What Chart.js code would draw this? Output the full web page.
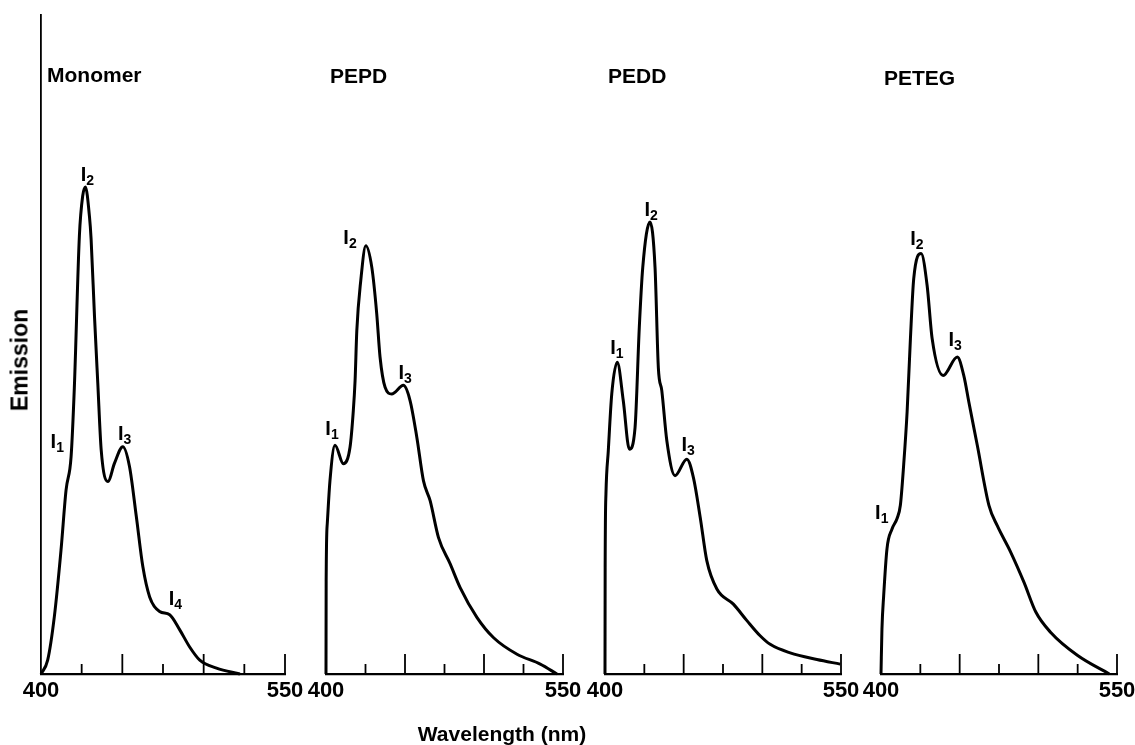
<!DOCTYPE html>
<html><head><meta charset="utf-8">
<script src="https://cdn.jsdelivr.net/npm/chart.js@4.4.1/dist/chart.umd.min.js"></script>
<style>
html,body{margin:0;padding:0;background:#fff;}
body{width:1135px;height:745px;position:relative;overflow:hidden;font-family:"Liberation Sans",Arial,Helvetica,sans-serif;}
canvas{position:absolute;}
.t{position:absolute;font-weight:bold;color:#000;white-space:nowrap;line-height:1;}
.lbl{position:absolute;font-weight:bold;font-size:20px;color:#000;transform:translate(-50%,-50%);white-space:nowrap;line-height:1;}
.lbl sub{font-size:14px;vertical-align:-4px;line-height:0;}
</style></head><body>
<script>
// ---- data (wavelength nm, emission a.u.) ----
const tickValues = [400, 425, 450, 475, 500, 525, 550];
const tickLabels = ['400', '550'];
const panelNames = ['Monomer', 'PEPD', 'PEDD', 'PETEG'];

const monomerX = [400, 404.1, 408.2, 412.3, 415.4, 418.5, 420.5, 423.6, 425.6, 427.3, 429.8, 430.8, 432.9, 434.9, 437.0, 441.1, 445.2, 450.3, 454.4, 458.6, 462.6, 466.8, 472.9, 479.1, 485.3, 491.4, 497.6, 507.9, 522.3];
const monomerY = [0, 2.1, 8.7, 18.8, 27.9, 33.0, 43.5, 66.5, 72.5, 73.9, 69.4, 66.0, 54.2, 44.2, 34.0, 29.2, 32.0, 34.5, 31.5, 23.9, 16.3, 11.7, 9.5, 9.0, 6.7, 4.1, 2.1, 0.9, 0];

const pepdX = [400, 400.1, 400.8, 402.5, 405.7, 411.0, 415.2, 417.3, 418.4, 419.5, 422.0, 425.2, 429.0, 432.1, 434.2, 437.4, 441.6, 449.0, 453.2, 457.5, 461.7, 465.9, 471.2, 478.6, 484.9, 495.5, 506.1, 520.9, 535.6, 546.2];
const pepdY = [0, 14.1, 22.8, 29.3, 34.7, 31.9, 34.4, 40.0, 44.5, 52.1, 59.7, 65.0, 61.7, 54.7, 48.1, 43.5, 42.5, 43.8, 41.5, 35.9, 29.3, 26.3, 20.7, 16.7, 13.1, 8.6, 5.5, 3.0, 1.5, 0];

const peddX = [400, 400.1, 400.6, 402.1, 404.3, 407.8, 411.6, 415.5, 419.1, 421.8, 424.0, 428.6, 431.8, 433.9, 436.1, 439.3, 444.5, 452.0, 456.2, 460.5, 464.7, 471.1, 481.6, 490.2, 498.6, 505.0, 517.7, 534.7, 549.5];
const peddY = [0, 16.2, 27.3, 33.9, 42.5, 47.3, 41.5, 34.1, 37.4, 52.6, 61.7, 68.6, 61.7, 46.5, 43.0, 35.4, 30.1, 32.6, 29.8, 23.8, 17.2, 12.9, 10.6, 8.1, 5.8, 4.5, 3.2, 2.2, 1.5];

const petegX = [400, 400.6, 401.7, 403.8, 407.0, 410.2, 412.3, 414.4, 416.6, 418.7, 420.8, 425.5, 429.3, 432.5, 439.5, 448.5, 452.7, 455.8, 461.2, 468.6, 473.9, 482.4, 490.9, 498.4, 507.9, 525.0, 545.1];
const petegY = [0, 6.8, 11.9, 19.0, 22.0, 23.6, 25.6, 31.7, 39.8, 50.9, 60.0, 63.8, 59.0, 50.9, 45.3, 48.1, 45.2, 41.3, 34.7, 25.6, 22.5, 18.5, 13.9, 9.4, 6.3, 2.8, 0];

// peak labels: [subscript, wavelength, emission]
const monomerPeaks = [['1', 410.0, 35.4], ['2', 428.5, 75.9], ['3', 451.4, 36.6], ['4', 482.6, 11.6]];
const pepdPeaks = [['1', 403.8, 37.3], ['2', 415.2, 66.3], ['3', 450.1, 45.8]];
const peddPeaks = [['1', 407.6, 49.6], ['2', 429.3, 70.6], ['3', 452.8, 34.9]];
const petegPeaks = [['1', 400.8, 24.6], ['2', 423.1, 66.2], ['3', 447.4, 50.8]];

// ---- layout ----
const BASE_Y = 674, TOP_Y = 15, PAD_L = 30, PAD_R = 30, CANVAS_H = 745;
const panels = [
  {name: panelNames[0], xs: monomerX, ys: monomerY, peaks: monomerPeaks, left: 41, right: 285, yAxis: true, titleX: 47, titleY: 64},
  {name: panelNames[1], xs: pepdX, ys: pepdY, peaks: pepdPeaks, left: 326, right: 562.5, yAxis: false, titleX: 330, titleY: 65},
  {name: panelNames[2], xs: peddX, ys: peddY, peaks: peddPeaks, left: 605, right: 840.5, yAxis: false, titleX: 608, titleY: 65},
  {name: panelNames[3], xs: petegX, ys: petegY, peaks: petegPeaks, left: 880.5, right: 1116, yAxis: false, titleX: 884, titleY: 67}
];

const innerTicks = {
  id: 'innerTicks',
  afterDatasetsDraw(chart) {
    const {ctx, chartArea, scales: {x}} = chart;
    ctx.save();
    ctx.strokeStyle = '#000';
    ctx.lineWidth = 1.8;
    x.ticks.forEach(t => {
      if (t.value === x.min) return;
      const px = x.getPixelForValue(t.value);
      const len = (t.value % 50 === 0) ? 20 : 10;
      ctx.beginPath();
      ctx.moveTo(px, chartArea.bottom);
      ctx.lineTo(px, chartArea.bottom - len);
      ctx.stroke();
    });
    ctx.restore();
  }
};

function addText(cls, html, x, y, extra) {
  const d = document.createElement('div');
  d.className = cls;
  d.innerHTML = html;
  d.style.left = x + 'px';
  d.style.top = y + 'px';
  if (extra) Object.assign(d.style, extra);
  document.body.appendChild(d);
  return d;
}

panels.forEach(p => {
  const canvas = document.createElement('canvas');
  const w = Math.round(p.right - p.left) + PAD_L + PAD_R;
  canvas.width = w; canvas.height = CANVAS_H;
  canvas.style.width = w + 'px'; canvas.style.height = CANVAS_H + 'px';
  const cLeft = p.left - PAD_L;
  canvas.style.left = cLeft + 'px';
  canvas.style.top = '0px';
  document.body.appendChild(canvas);
  const chart = new Chart(canvas, {
    type: 'scatter',
    data: {datasets: [{
      data: p.xs.map((x, i) => ({x, y: p.ys[i]})),
      showLine: true, borderColor: '#000', borderWidth: 3,
      pointRadius: 0, cubicInterpolationMode: 'monotone', fill: false, clip: false
    }]},
    options: {
      responsive: false, animation: false, devicePixelRatio: 1,
      layout: {padding: {left: PAD_L, right: PAD_R, top: TOP_Y, bottom: 40}},
      plugins: {legend: {display: false}, tooltip: {enabled: false}, title: {display: false}},
      scales: {
        x: {
          type: 'linear', min: 400, max: 550,
          afterBuildTicks: s => { s.ticks = tickValues.map(v => ({value: v})); },
          ticks: {
            autoSkip: false, maxRotation: 0, padding: 4, color: '#000',
            font: {family: '"Liberation Sans", Arial, sans-serif', size: 22, weight: 'bold', lineHeight: 1.2},
            callback: v => tickLabels.includes(String(v)) ? String(v) : ''
          },
          grid: {display: false, drawTicks: false},
          border: {display: true, color: '#000', width: 2.2}
        },
        y: {
          min: 0, max: 100, display: p.yAxis,
          ticks: {display: false},
          grid: {display: false, drawTicks: false},
          border: {display: p.yAxis, color: '#000', width: 1.8}
        }
      }
    },
    plugins: [innerTicks]
  });
  // place chart area bottom on the baseline
  const axisH = chart.scales.x.height;
  chart.options.layout.padding.bottom = CANVAS_H - BASE_Y - axisH;
  chart.update();

  addText('t', p.name, p.titleX, p.titleY, {fontSize: '21px'});
  p.peaks.forEach(([sub, nm, v]) => {
    const px = cLeft + chart.scales.x.getPixelForValue(nm);
    const py = chart.scales.y.getPixelForValue(v);
    addText('lbl', 'I<sub>' + sub + '</sub>', px, py);
  });
});

addText('t', 'Emission', 20, 360, {fontSize: '23px', transform: 'translate(-50%,-50%) rotate(-90deg)'});
addText('t', 'Wavelength (nm)', 502, 733, {fontSize: '21px', transform: 'translate(-50%,-50%)'});
</script>
</body></html>
